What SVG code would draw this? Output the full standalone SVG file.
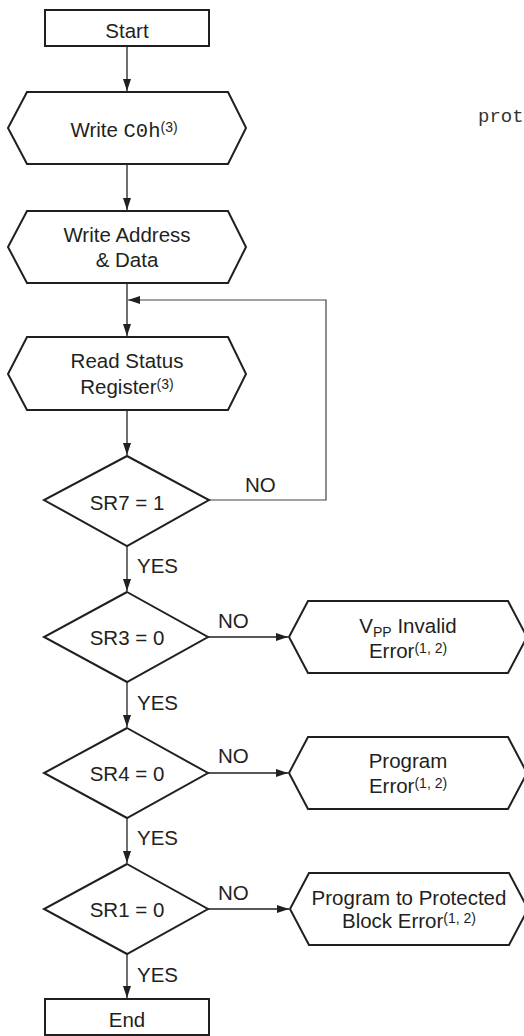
<svg xmlns="http://www.w3.org/2000/svg" width="524" height="1036" viewBox="0 0 524 1036">
<defs>
<marker id="ah" markerWidth="12" markerHeight="8" refX="12" refY="4" orient="auto" markerUnits="userSpaceOnUse">
<path d="M0,0 L12,4 L0,8 Z" fill="#231f20"/>
</marker>
<style>
.shape{fill:#fff;stroke:#231f20;stroke-width:2}
.t{font-family:"Liberation Sans",Arial,sans-serif;font-size:20.5px;fill:#231f20;text-anchor:middle}
.lbl{font-family:"Liberation Sans",Arial,sans-serif;font-size:20.5px;fill:#231f20}
.mono{font-family:"Liberation Mono","Courier New",monospace}
.sup{font-size:14px}
.conn{fill:none;stroke:#231f20;stroke-width:1.3}
.loop{fill:none;stroke:#444;stroke-width:1.2}
</style>
</defs>
<rect width="524" height="1036" fill="#fff"/>
<g id="connectors">
<line class="conn" x1="127" y1="46" x2="127" y2="91" marker-end="url(#ah)"/>
<line class="conn" x1="127" y1="164" x2="127" y2="210" marker-end="url(#ah)"/>
<line class="conn" x1="127" y1="283" x2="127" y2="336" marker-end="url(#ah)"/>
<line class="conn" x1="127" y1="410" x2="127" y2="455" marker-end="url(#ah)"/>
<polyline class="loop" points="209,500 326,500 326,300 128,300" marker-end="url(#ah)"/>
<line class="conn" x1="127" y1="546" x2="127" y2="591" marker-end="url(#ah)"/>
<line class="conn" x1="127" y1="682" x2="127" y2="727" marker-end="url(#ah)"/>
<line class="conn" x1="127" y1="818" x2="127" y2="863" marker-end="url(#ah)"/>
<line class="conn" x1="127" y1="954" x2="127" y2="998" marker-end="url(#ah)"/>
<line class="conn" x1="208" y1="637" x2="288" y2="637" marker-end="url(#ah)"/>
<line class="conn" x1="208" y1="773" x2="288" y2="773" marker-end="url(#ah)"/>
<line class="conn" x1="208" y1="909" x2="289" y2="909" marker-end="url(#ah)"/>
<text class="lbl" x="245" y="492">NO</text>
<text class="lbl" x="137" y="573">YES</text>
<text class="lbl" x="218" y="628">NO</text>
<text class="lbl" x="137" y="710">YES</text>
<text class="lbl" x="218" y="763">NO</text>
<text class="lbl" x="137" y="845">YES</text>
<text class="lbl" x="218" y="900">NO</text>
<text class="lbl" x="137" y="982">YES</text>
</g>
<g id="start">
<rect class="shape" x="45" y="10" width="164" height="36"/>
<text class="t" x="127" y="38">Start</text>
</g>
<g id="writeC0h">
<polygon class="shape" points="8,128 27,92 228,92 246,128 228,164 27,164"/>
<text class="t" x="124" y="137">Write <tspan class="mono">C0h</tspan><tspan class="sup" dy="-5">(3)</tspan></text>
</g>
<g id="writeAddr">
<polygon class="shape" points="8,247 27,211 228,211 246,247 228,283 27,283"/>
<text class="t" x="127" y="242">Write Address</text>
<text class="t" x="127" y="267">&amp; Data</text>
</g>
<g id="readStatus">
<polygon class="shape" points="8,374 27,337 228,337 246,374 228,410 27,410"/>
<text class="t" x="127" y="368">Read Status</text>
<text class="t" x="127" y="394">Register<tspan class="sup" dy="-5">(3)</tspan></text>
</g>
<g id="sr7">
<polygon class="shape" points="127,456 209,500 127,546 44,500"/>
<text class="t" x="127" y="510">SR7 = 1</text>
</g>
<g id="sr3">
<polygon class="shape" points="127,592 208,637 127,682 44,637"/>
<text class="t" x="127" y="645">SR3 = 0</text>
</g>
<g id="sr4">
<polygon class="shape" points="127,728 208,773 127,818 44,773"/>
<text class="t" x="127" y="781">SR4 = 0</text>
</g>
<g id="sr1">
<polygon class="shape" points="127,864 208,909 127,954 44,909"/>
<text class="t" x="127" y="917">SR1 = 0</text>
</g>
<g id="end">
<rect class="shape" x="45" y="999" width="164" height="36"/>
<text class="t" x="127" y="1027">End</text>
</g>
<g id="vppError">
<polygon class="shape" points="289,637 308,601 508,601 527,637 508,673 308,673"/>
<text class="t" x="408" y="633">V<tspan class="sup" dy="4">PP</tspan><tspan dy="-4"> Invalid</tspan></text>
<text class="t" x="408" y="658">Error<tspan class="sup" dy="-5">(1, 2)</tspan></text>
</g>
<g id="progError">
<polygon class="shape" points="289,773 308,737 508,737 527,773 508,809 308,809"/>
<text class="t" x="408" y="768">Program</text>
<text class="t" x="408" y="793">Error<tspan class="sup" dy="-5">(1, 2)</tspan></text>
</g>
<g id="protError">
<polygon class="shape" points="290,909 309,873 509,873 528,909 509,945 309,945"/>
<text class="t" x="409" y="905">Program to Protected</text>
<text class="t" x="409" y="928">Block Error<tspan class="sup" dy="-5">(1, 2)</tspan></text>
</g>
<text x="478" y="122" font-family="'Liberation Mono','Courier New',monospace" font-size="19" fill="#333">prot</text>
</svg>
